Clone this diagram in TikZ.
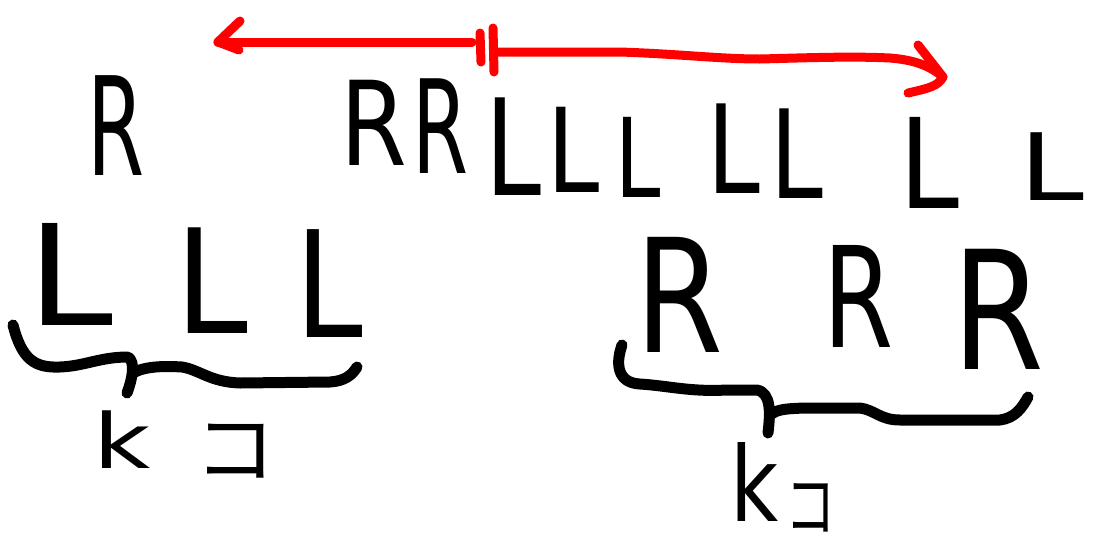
\documentclass[tikz,border=0pt]{standalone}
\usepackage{fontspec}
\usepackage{graphicx}
\newfontfamily\handfont{DejaVu Sans}
\newfontfamily\cjkfont{Noto Sans CJK JP}
% #1 = font size (pt), #2 = horizontal squeeze, #3 = text
\newcommand\hw[3]{{\handfont\fontsize{#1pt}{#1pt}\selectfont\scalebox{#2}[1]{#3}}}
\newcommand\hk[3]{{\cjkfont\fontsize{#1pt}{#1pt}\selectfont\scalebox{#2}[1]{#3}}}
\tikzset{
  glyph/.style={inner sep=0pt, outer sep=0pt, anchor=base, text=black},
  kana/.style={inner sep=0pt, outer sep=0pt, anchor=center, text=black},
  brace/.style={draw=black, line width=11pt, line cap=round, line join=round},
  redpen/.style={draw=red, line width=9pt, line cap=round, line join=round},
}
\begin{document}
\begin{tikzpicture}[x=1pt, y=-1pt]
\useasboundingbox (0,0) rectangle (1098,536);

% top row of letters
\node[glyph] (rtop) at (116,175) {\hw{137}{0.6}{R}};
\node[glyph] (rr1)  at (374,165) {\hw{117}{0.82}{R}};
\node[glyph] (rr2)  at (440,173) {\hw{130}{0.62}{R}};
\node[glyph] (l1)   at (513,195) {\hw{134}{0.75}{L}};
\node[glyph] (l2)   at (574,192) {\hw{117}{0.8}{L}};
\node[glyph] (l3)   at (638,197) {\hw{110}{0.74}{L}};
\node[glyph] (l4)   at (734,193) {\hw{123}{0.77}{L}};
\node[glyph] (l5)   at (797,198) {\hw{123}{0.77}{L}};
\node[glyph] (l6)   at (929,208) {\hw{125}{0.86}{L}};
\node[glyph] (l7)   at (1052,200) {\hw{93}{1.25}{L}};

% lower left group
\node[glyph] (bl1) at (70,325)  {\hw{140}{1.1}{L}};
\node[glyph] (bl2) at (212,333) {\hw{145}{0.9}{L}};
\node[glyph] (bl3) at (329,337) {\hw{148}{0.82}{L}};
\node[glyph] (k1)  at (122,468) {\hw{76}{1.3}{k}};
\node[kana]  (ko1) at (235,451) {\hk{78}{1.05}{コ}};

% lower right group
\node[glyph] (br1) at (679,352) {\hw{158}{0.8}{R}};
\node[glyph] (br2) at (859,347) {\hw{140}{0.72}{R}};
\node[glyph] (br3) at (998,369) {\hw{165}{0.8}{R}};
\node[glyph] (k2)  at (755,521) {\hw{104}{0.8}{k}};
\node[kana]  (ko2) at (811,508) {\hk{70}{0.72}{コ}};

% braces under the two groups
\path[brace] (13,325) .. controls (22,360) and (35,368) .. (60,367)
  .. controls (85,366) and (100,357) .. (128,357)
  .. controls (136,362) and (132,380) .. (127,393);
\path[brace] (133,373) .. controls (145,366) and (165,366) .. (182,367)
  .. controls (200,370) and (210,382) .. (240,383)
  -- (330,382) .. controls (345,381) and (352,375) .. (357,367);

\path[brace] (622,345) .. controls (615,365) and (618,383) .. (640,384)
  .. controls (670,386) and (690,392) .. (727,390)
  -- (757,390) .. controls (772,393) and (770,415) .. (768,433);
\path[brace] (773,413) .. controls (780,408) and (800,408) .. (820,408)
  -- (860,408) .. controls (875,410) and (880,420) .. (900,420)
  -- (1000,420) .. controls (1015,418) and (1022,408) .. (1028,397);

% red double-headed arrow split by a double bar
\coordinate (lt)  at (218,42);
\coordinate (lb)  at (472,42);
\coordinate (rb)  at (494,52);
\coordinate (rt)  at (943,77);
\path[redpen] (240,21) -- (lt) -- (239,50);
\path[redpen] (lt) -- (lb);
\path[redpen] (480,33) -- (481,62);
\path[redpen] (493,28) -- (494,72);
\path[redpen] (rb) -- (620,52) .. controls (680,54) and (720,59) .. (760,59)
  .. controls (800,58) and (850,56) .. (890,58)
  .. controls (915,60) and (930,66) .. (rt);
\path[redpen] (918,45) -- (rt) .. controls (938,86) and (930,88) .. (908,93);
\end{tikzpicture}
\end{document}
